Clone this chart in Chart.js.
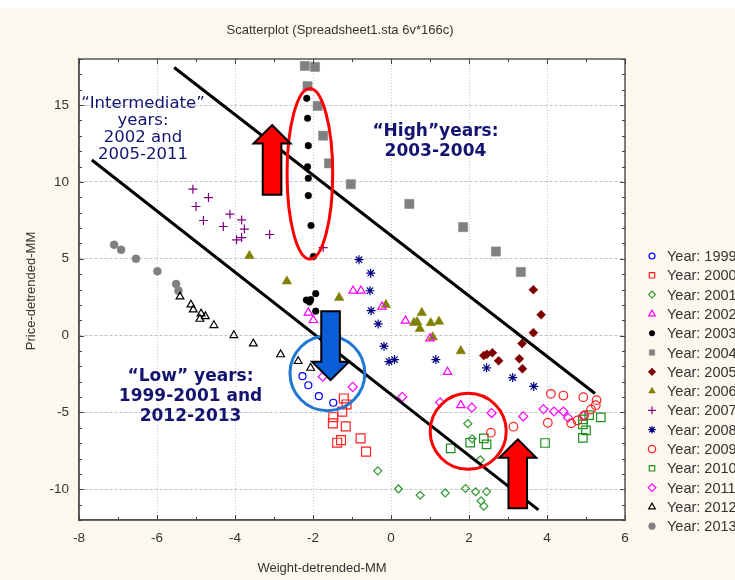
<!DOCTYPE html>
<html>
<head>
<meta charset="utf-8">
<script src="https://cdn.jsdelivr.net/npm/chart.js@4.4.0/dist/chart.umd.min.js"></script>
<style>
  html, body { margin: 0; padding: 0; background: #fdf8ee; }
</style>
</head>
<body>
<canvas id="chart" width="735" height="580"></canvas>
<script>
// axis ticks
const xTicks = [-8, -6, -4, -2, 0, 2, 4, 6];
const yTicks = [-10, -5, 0, 5, 10, 15];

// points per year, [weight, price]
const years = [1999, 2000, 2001, 2002, 2003, 2004, 2005, 2006, 2007, 2008, 2009, 2010, 2011, 2012, 2013];
const pts1999 = [[-2.27,-2.64],[-2.12,-3.23],[-1.85,-3.94],[-1.48,-4.37]];
const pts2000 = [[-1.21,-4.09],[-1.14,-4.48],[-1.25,-4.95],[-1.48,-5.31],[-1.49,-5.71],[-1.16,-5.91],[-1.28,-6.80],[-1.38,-6.97],[-0.78,-6.69],[-0.64,-7.55]];
const pts2001 = [[-0.34,-8.80],[0.19,-9.98],[0.75,-10.39],[1.39,-10.24],[1.91,-9.95],[2.17,-10.16],[2.45,-10.15],[2.31,-10.76],[2.38,-11.10],[1.97,-5.73],[2.08,-6.72],[2.29,-8.08]];
const pts2002 = [[-2.12,1.49],[-1.99,1.01],[-0.97,2.92],[-0.77,2.92],[-0.23,1.88],[0.37,0.97],[1.0,-0.19],[1.45,-2.37],[1.79,-4.53]];
const pts2003 = [[-2.16,15.44],[-2.14,14.14],[-2.12,12.36],[-2.14,10.99],[-2.12,10.24],[-2.12,9.11],[-2.05,7.16],[-1.99,5.15],[-2.17,2.31],[-2.09,2.18],[-2.06,2.34],[-1.93,2.73],[-1.93,1.59]];
const pts2004 = [[-2.21,17.55],[-1.95,17.49],[-2.14,16.23],[-1.88,14.95],[-1.74,13.01],[-1.59,11.21],[-1.03,9.85],[0.47,8.57],[1.85,7.06],[2.69,5.47],[3.33,4.14]];
const pts2005 = [[3.65,2.99],[3.85,1.36],[3.65,0.19],[3.36,-0.52],[3.29,-1.51],[3.37,-2.16],[2.76,-1.64],[2.60,-1.12],[2.46,-1.21],[2.38,-1.30]];
const pts2006 = [[-3.63,5.19],[-2.67,3.53],[-1.33,2.47],[-0.13,2.01],[0.79,1.49],[0.59,0.84],[0.67,0.89],[0.74,0.44],[1.02,0.82],[1.23,0.91],[1.07,-0.10],[1.79,-1.01]];
const pts2007 = [[-5.08,9.53],[-4.68,8.98],[-5.0,8.40],[-4.81,7.49],[-4.13,7.90],[-4.30,7.10],[-3.83,7.53],[-3.76,6.93],[-3.96,6.23],[-3.83,6.38],[-3.11,6.58],[-1.74,5.73]];
const pts2008 = [[-0.82,4.94],[-0.52,4.06],[-0.54,2.92],[-0.51,1.62],[-0.33,0.76],[-0.18,-0.69],[-0.05,-1.69],[0.09,-1.56],[1.15,-1.56],[2.45,-2.10],[3.12,-2.73],[3.66,-3.31]];
const pts2009 = [[2.56,-6.32],[3.14,-5.93],[4.10,-3.79],[4.42,-3.90],[4.02,-5.67],[4.93,-4.01],[5.27,-4.20],[5.25,-4.53],[5.13,-4.81],[4.78,-5.52],[4.62,-5.71],[4.95,-5.19]];
const pts2010 = [[1.53,-7.34],[2.03,-6.97],[2.38,-6.69],[2.45,-7.08],[3.95,-6.99],[4.92,-5.45],[5.08,-5.18],[5.38,-5.32],[5.0,-6.17],[4.92,-6.66],[4.92,-5.78]];
const pts2011 = [[-1.75,-2.67],[-0.98,-3.34],[0.29,-3.99],[1.26,-4.35],[2.07,-4.69],[2.58,-5.04],[3.39,-5.26],[3.91,-4.78],[4.18,-4.94],[4.42,-4.94],[4.54,-5.34],[4.95,-5.21]];
const pts2012 = [[-5.41,2.53],[-5.13,2.01],[-5.07,1.69],[-4.87,1.43],[-4.76,1.25],[-4.90,1.08],[-4.54,0.67],[-4.03,0.02],[-3.53,-0.52],[-2.83,-1.23],[-2.38,-1.67],[-2.06,-2.11]];
const pts2013 = [[-7.10,5.91],[-6.92,5.58],[-6.54,5.0],[-5.99,4.18],[-5.51,3.36],[-5.45,2.92]];

// the two hand-drawn band lines
const bandUpper = [[-5.56,17.45],[5.23,-3.77]];
const bandLower = [[-7.67,11.43],[3.78,-11.34]];

const yearPoints = [pts1999, pts2000, pts2001, pts2002, pts2003, pts2004, pts2005, pts2006, pts2007, pts2008, pts2009, pts2010, pts2011, pts2012, pts2013];

// marker look per year: [pointStyle, colour, filled, radius]
const markers = [
    ['circle',   '#0000ff', false, 3.5],
    ['rect',     '#ff2020', false, 6.3],
    ['rectRot',  '#2f9a2f', false, 4],
    ['triangle', '#ff00ff', false, 4.8],
    ['circle',   '#000000', true,  3.3],
    ['rect',     '#808080', true,  6.5],
    ['rectRot',  '#800000', true,  4.5],
    ['triangle', '#808000', true,  5.5],
    ['cross',    '#800080', false, 4.5],
    ['star',     '#000080', false, 4.5],
    ['circle',   '#ff2020', false, 4.3],
    ['rect',     '#1f8f1f', false, 6],
    ['rectRot',  '#ff00ff', false, 4.5],
    ['triangle', '#000000', false, 4.5],
    ['circle',   '#808080', true,  4]
];

const toXY = arr => arr.map(p => ({ x: p[0], y: p[1] }));

const datasets = [];
[bandUpper, bandLower].forEach(band => {
    datasets.push({
        type: 'line',
        data: toXY(band),
        borderColor: '#000',
        borderWidth: 3,
        pointRadius: 0,
        showLine: true,
        fill: false,
        order: 0
    });
});
years.forEach((yr, i) => {
    const [style, color, filled, r] = markers[i];
    datasets.push({
        label: 'Year: ' + yr,
        data: toXY(yearPoints[i]),
        pointStyle: style,
        pointRadius: r,
        pointBorderColor: color,
        pointBackgroundColor: filled ? color : 'rgba(0,0,0,0)',
        pointBorderWidth: filled ? 0.5 : 1.2,
        order: 1
    });
});

const NAVY = '#141470';
const TEXT = '#333333';
const FONT = '"Liberation Sans", Arial, sans-serif';

// background: cream page, white plot area
const background = {
    id: 'background',
    beforeDraw(chart) {
        const { ctx, chartArea: a } = chart;
        ctx.save();
        ctx.fillStyle = '#fdf8ee';
        ctx.fillRect(0, 0, chart.width, chart.height);
        ctx.fillStyle = '#ffffff';
        ctx.fillRect(0, 0, chart.width, 8);
        ctx.fillRect(a.left, a.top, a.right - a.left, a.bottom - a.top);
        ctx.restore();
    }
};

function drawArrow(ctx, tx, ty, by, headLen, headHalf, shaftHalf, fill) {
    const dir = Math.sign(by - ty);
    const hb = ty + dir * headLen;
    ctx.beginPath();
    ctx.moveTo(tx, ty);
    ctx.lineTo(tx + headHalf, hb);
    ctx.lineTo(tx + shaftHalf, hb);
    ctx.lineTo(tx + shaftHalf, by);
    ctx.lineTo(tx - shaftHalf, by);
    ctx.lineTo(tx - shaftHalf, hb);
    ctx.lineTo(tx - headHalf, hb);
    ctx.closePath();
    ctx.fillStyle = fill;
    ctx.fill();
    ctx.lineWidth = 2;
    ctx.strokeStyle = '#000';
    ctx.lineJoin = 'miter';
    ctx.stroke();
}

// ellipse, circles, arrows and notes, placed in data units
const ellipseNote = { cx: -2.08, cy: 10.53, rx: 0.585, ry: 5.55 };
const circleNotes = [
    { cx: -1.63, cy: -2.45, r: 0.96, color: '#1f78d1' },
    { cx: 1.98, cy: -6.23, r: 0.975, color: '#ff0000' }
];
const arrowNotes = [
    { x: -3.05, tip: 13.70, tail: 9.16, color: '#ff0000' },
    { x: -1.55, tip: -2.90, tail: 1.58, color: '#0a5fd8' },
    { x: 3.25, tip: -6.75, tail: -11.23, color: '#ff0000' }
];
const textNotes = [
    { lines: ['\u201CIntermediate\u201D', 'years:', '2002 and', '2005-2011'], x: -6.36, y: 15.11, lh: 17, font: '16.5px "DejaVu Sans", Verdana, sans-serif' },
    { lines: ['\u201CHigh\u201Dyears:', '2003-2004'], x: 1.14, y: 13.27, lh: 20, font: 'bold 17px "DejaVu Sans", Verdana, sans-serif' },
    { lines: ['\u201CLow\u201D years:', '1999-2001 and', '2012-2013'], x: -5.14, y: -2.68, lh: 19.7, font: 'bold 17px "DejaVu Sans", Verdana, sans-serif' }
];

const notes = {
    id: 'notes',
    afterDatasetsDraw(chart) {
        const { ctx, scales: { x, y } } = chart;
        const px = v => x.getPixelForValue(v);
        const py = v => y.getPixelForValue(v);
        ctx.save();

        ctx.lineWidth = 3;
        ctx.strokeStyle = '#ff0000';
        ctx.beginPath();
        ctx.ellipse(px(ellipseNote.cx), py(ellipseNote.cy),
            px(ellipseNote.cx + ellipseNote.rx) - px(ellipseNote.cx),
            py(ellipseNote.cy) - py(ellipseNote.cy + ellipseNote.ry), 0, 0, Math.PI * 2);
        ctx.stroke();

        circleNotes.forEach(c => {
            ctx.lineWidth = 3;
            ctx.strokeStyle = c.color;
            ctx.beginPath();
            ctx.arc(px(c.cx), py(c.cy), px(c.cx + c.r) - px(c.cx), 0, Math.PI * 2);
            ctx.stroke();
        });

        arrowNotes.forEach(a => {
            drawArrow(ctx, px(a.x), py(a.tip), py(a.tail), 18.5, 18.5, 9.3, a.color);
        });

        ctx.fillStyle = NAVY;
        ctx.textAlign = 'center';
        ctx.textBaseline = 'middle';
        textNotes.forEach(t => {
            ctx.font = t.font;
            t.lines.forEach((line, i) => {
                ctx.fillText(line, px(t.x), py(t.y) + i * t.lh);
            });
        });
        ctx.restore();
    }
};

// frame, inward ticks, titles and legend
const frame = {
    id: 'frame',
    afterDraw(chart) {
        const { ctx, chartArea: a, scales: { x, y } } = chart;
        ctx.save();
        ctx.strokeStyle = '#555';
        ctx.lineWidth = 1.5;
        ctx.strokeRect(a.left, a.top, a.right - a.left, a.bottom - a.top);

        ctx.lineWidth = 1;
        ctx.strokeStyle = '#444';
        ctx.beginPath();
        for (let v = x.min; v <= x.max; v++) {
            const p = Math.round(x.getPixelForValue(v)) + 0.5;
            const len = v % 2 === 0 ? 5 : 3;
            ctx.moveTo(p, a.bottom); ctx.lineTo(p, a.bottom - len);
            ctx.moveTo(p, a.top); ctx.lineTo(p, a.top + len);
        }
        for (let v = y.min; v <= y.max; v++) {
            const p = Math.round(y.getPixelForValue(v)) + 0.5;
            const len = v % 5 === 0 ? 5 : 3;
            ctx.moveTo(a.left, p); ctx.lineTo(a.left + len, p);
            ctx.moveTo(a.right, p); ctx.lineTo(a.right - len, p);
        }
        ctx.stroke();

        ctx.fillStyle = TEXT;
        ctx.font = '13px ' + FONT;
        ctx.textAlign = 'center';
        ctx.textBaseline = 'middle';
        ctx.fillText('Scatterplot (Spreadsheet1.sta 6v*166c)', 340, 30);
        ctx.fillText('Weight-detrended-MM', 322, 568);
        ctx.save();
        ctx.translate(31, 291);
        ctx.rotate(-Math.PI / 2);
        ctx.fillText('Price-detrended-MM', 0, 0);
        ctx.restore();

        // legend
        ctx.textAlign = 'left';
        years.forEach((yr, i) => {
            const [style, color, filled, r] = markers[i];
            const ly = 256 + i * 19.3;
            ctx.fillStyle = filled ? color : 'rgba(0,0,0,0)';
            ctx.strokeStyle = color;
            ctx.lineWidth = filled ? 0.5 : 1.2;
            Chart.helpers.drawPoint(ctx, { pointStyle: style, radius: Math.min(r, 4.5) * 0.85, rotation: 0, borderWidth: ctx.lineWidth }, 652, ly);
            ctx.fillStyle = TEXT;
            ctx.font = '14.5px ' + FONT;
            ctx.fillText('Year: ' + yr, 667, ly + 1);
        });
        ctx.restore();
    }
};

new Chart(document.getElementById('chart'), {
    type: 'scatter',
    data: { datasets },
    options: {
        responsive: false,
        animation: false,
        devicePixelRatio: 1,
        layout: { padding: { left: 0, top: 59, right: 110, bottom: 0 } },
        plugins: { legend: { display: false }, tooltip: { enabled: false } },
        scales: {
            x: {
                type: 'linear',
                min: -8,
                max: 6,
                afterBuildTicks: s => { s.ticks = xTicks.map(v => ({ value: v })); },
                afterFit: s => { s.height = 60; },
                ticks: { padding: 10, color: TEXT, font: { family: FONT, size: 13.5 } },
                grid: { color: '#c4c4c4', drawTicks: false },
                border: { color: '#555', width: 1.5, dash: [1, 2] }
            },
            y: {
                type: 'linear',
                min: -12,
                max: 18,
                afterBuildTicks: s => { s.ticks = yTicks.map(v => ({ value: v })); },
                afterFit: s => { s.width = 79; },
                ticks: { padding: 10, color: TEXT, font: { family: FONT, size: 13.5 } },
                grid: { color: '#c4c4c4', drawTicks: false },
                border: { color: '#555', width: 1.5, dash: [3, 2] }
            }
        }
    },
    plugins: [background, notes, frame]
});
</script>
</body>
</html>
